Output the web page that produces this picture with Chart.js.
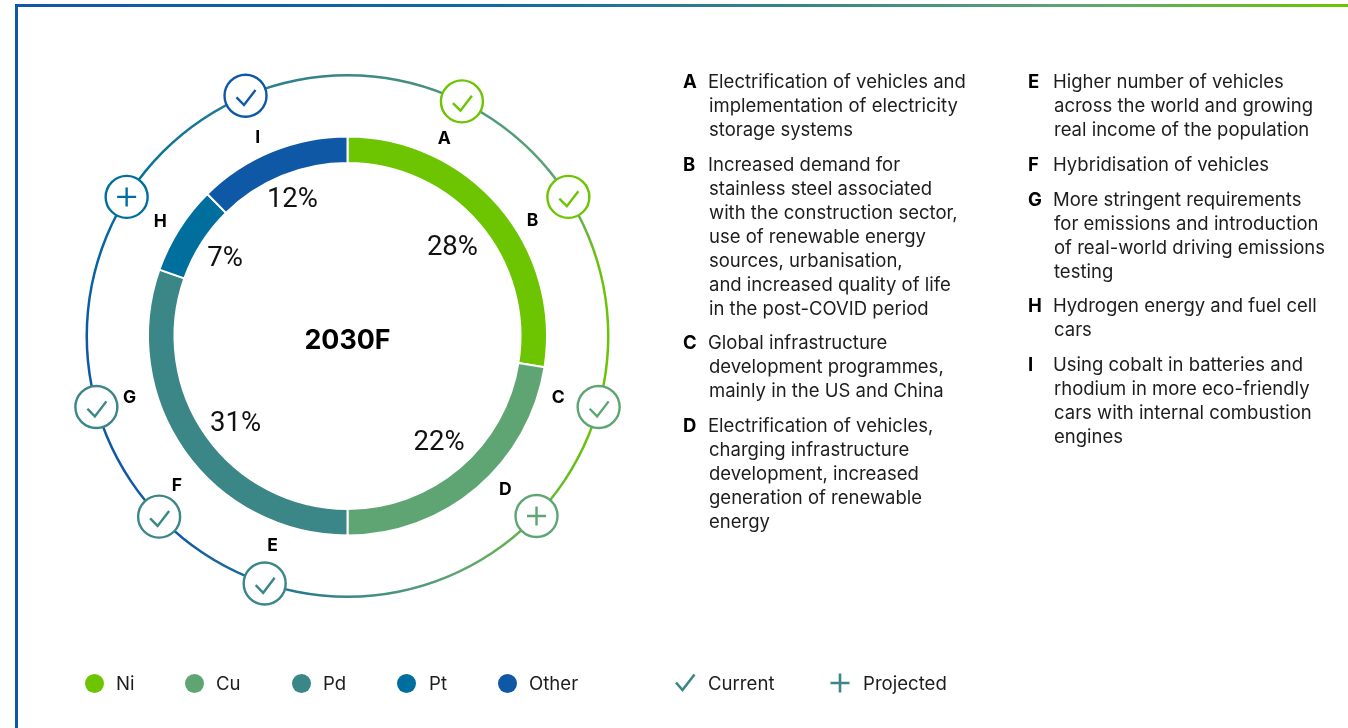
<!DOCTYPE html>
<html lang="en">
<head>
<meta charset="utf-8">
<title>2030F</title>
<script src="https://cdn.jsdelivr.net/npm/chart.js@4"></script>
<style>
  html, body { margin: 0; padding: 0; background: #fff; }
  body { position: relative; width: 1348px; height: 728px; overflow: hidden; font-family: Inter, sans-serif; color: #1d1d1d; }
  #chart { position: absolute; left: 0; top: 0; }
  #topLine { position: absolute; left: 15px; top: 4px; right: 0; height: 3px; background: linear-gradient(90deg, #0e58a6 0%, #0e6aa0 35%, #3b8686 60%, #5fa573 80%, #6cc500 100%); }
  #leftLine { position: absolute; left: 15px; top: 4px; bottom: 0; width: 3px; background: #0e58a6; }
  .note { position: absolute; font-size: 18.5px; line-height: 24px; white-space: nowrap; }
  .note b { position: absolute; left: 0; top: 0; font-weight: 700; color: #000; }
  .note span { display: block; margin-left: 26px; }
  .note span.first { margin-left: 25px; }
  .legendItem { position: absolute; top: 671px; font-size: 18.6px; line-height: 24px; }
  .dot { position: absolute; top: 674px; width: 19px; height: 19px; border-radius: 50%; }
  svg.icon { position: absolute; top: 671px; width: 24px; height: 24px; }
</style>
</head>
<body>
<canvas id="chart" width="1348" height="728"></canvas>
<div id="topLine"></div>
<div id="leftLine"></div>
<script>
// Podaci
const metals = ["Ni", "Cu", "Pd", "Pt", "Other"];
const shareLabels = ["28%", "22%", "31%", "7%", "12%"];
// Sirine lukova procitane sa slike (u originalu ne prate tacno ispisane postotke)
const arcShares = [27.5, 22.5, 30.4, 7.2, 12.4];
const metalColors = ["#6cc500", "#5fa573", "#3b8686", "#006f9e", "#0e58a6"];

const driverLetters = ["A", "B", "C", "D", "E", "F", "G", "H", "I"];
const driverKinds = ["check", "check", "check", "plus", "check", "check", "check", "plus", "check"];
const driverMetal = [0, 0, 1, 1, 2, 2, 2, 3, 4];

const notesLeft = [
  ["Electrification of vehicles and", "implementation of electricity", "storage systems"],
  ["Increased demand for", "stainless steel associated", "with the construction sector,", "use of renewable energy", "sources, urbanisation,", "and increased quality of life", "in the post-COVID period"],
  ["Global infrastructure", "development programmes,", "mainly in the US and China"],
  ["Electrification of vehicles,", "charging infrastructure", "development, increased", "generation of renewable", "energy"]
];
const notesRight = [
  ["Higher number of vehicles", "across the world and growing", "real income of the population"],
  ["Hybridisation of vehicles"],
  ["More stringent requirements", "for emissions and introduction", "of real-world driving emissions", "testing"],
  ["Hydrogen energy and fuel cell", "cars"],
  ["Using cobalt in batteries and", "rhodium in more eco-friendly", "cars with internal combustion", "engines"]
];

// Raspored (nije dio podataka)
const markerAngles = [26, 57.8, 105.8, 133.6, 198.5, 226.2, 254.2, 302.2, 337];
const letterAngles = [26, 57.7, 105.9, 133.9, 199.8, 229, 254.6, 301.7, 335.8];
const letterRadii = [221, 219, 219, 219, 221, 226, 226, 220, 219];
const percentAngles = [49.2, 138.8, 232.6, 303, 338.3];
const percentRadii = [138.6, 138.9, 140.9, 146, 149];
const leftTops = [69, 152, 330, 413];
const rightTops = [69, 152, 187, 293, 352];
const legendDotX = [85, 185, 292, 397, 498];
const legendTextX = [116, 216, 323, 429, 529];

function addNotes(notes, tops, x, startIndex) {
  notes.forEach((lines, i) => {
    const note = document.createElement("div");
    note.className = "note";
    note.style.left = x + "px";
    note.style.top = tops[i] + "px";
    const letter = document.createElement("b");
    letter.textContent = driverLetters[startIndex + i];
    note.appendChild(letter);
    lines.forEach((line, j) => {
      const row = document.createElement("span");
      if (j === 0) row.className = "first";
      row.textContent = line;
      note.appendChild(row);
    });
    document.body.appendChild(note);
  });
}
addNotes(notesLeft, leftTops, 683, 0);
addNotes(notesRight, rightTops, 1028, 4);

// Legenda
metals.forEach((metal, i) => {
  const dot = document.createElement("div");
  dot.className = "dot";
  dot.style.left = legendDotX[i] + "px";
  dot.style.background = metalColors[i];
  document.body.appendChild(dot);
  const text = document.createElement("div");
  text.className = "legendItem";
  text.style.left = legendTextX[i] + "px";
  text.textContent = metal;
  document.body.appendChild(text);
});
document.body.insertAdjacentHTML("beforeend", `
  <svg class="icon" style="left:673px" viewBox="0 0 24 24"><path d="M3 11.5 L9.5 19 L21.5 3.5" fill="none" stroke="#3b8686" stroke-width="2.6"/></svg>
  <div class="legendItem" style="left:708px">Current</div>
  <svg class="icon" style="left:828px" viewBox="0 0 24 24"><path d="M12 2.5 V21.5 M2.5 12 H21.5" fill="none" stroke="#3b8686" stroke-width="2.6"/></svg>
  <div class="legendItem" style="left:863px">Projected</div>`);

function toPoint(cx, cy, deg, r) {
  const a = (deg - 90) * Math.PI / 180;
  return [cx + Math.cos(a) * r, cy + Math.sin(a) * r];
}

// Vanjski prsten s prijelazom boja
function ringGradient(context) {
  const chart = context.chart;
  if (!chart.chartArea) return "#3b8686";
  const cx = (chart.chartArea.left + chart.chartArea.right) / 2;
  const cy = (chart.chartArea.top + chart.chartArea.bottom) / 2;
  const g = chart.ctx.createConicGradient(-Math.PI / 2, cx, cy);
  g.addColorStop(0, "#3b8686");
  g.addColorStop(0.09, "#4f9a7c");
  g.addColorStop(0.16, "#5fa573");
  g.addColorStop(0.2, "#6cc010");
  g.addColorStop(0.3, "#6cc500");
  g.addColorStop(0.37, "#62b83a");
  g.addColorStop(0.43, "#5fa573");
  g.addColorStop(0.5, "#3b8686");
  g.addColorStop(0.56, "#1a6c99");
  g.addColorStop(0.62, "#0e58a6");
  g.addColorStop(0.75, "#0e58a6");
  g.addColorStop(0.84, "#006f9e");
  g.addColorStop(1, "#3b8686");
  return g;
}

// Oznake, kruzici i postoci iznad prstenova
const overlayPlugin = {
  id: "overlay",
  afterDraw(chart) {
    const ctx = chart.ctx;
    const band = chart.getDatasetMeta(2).data;
    const cx = band[0].x, cy = band[0].y;
    const ringR = chart.getDatasetMeta(0).data[0].outerRadius - 1;
    ctx.save();
    ctx.textAlign = "center";
    ctx.textBaseline = "middle";

    driverLetters.forEach((letter, i) => {
      const [mx, my] = toPoint(cx, cy, markerAngles[i], ringR);
      const color = metalColors[driverMetal[i]];
      ctx.beginPath();
      ctx.arc(mx, my, 21, 0, Math.PI * 2);
      ctx.fillStyle = "#fff";
      ctx.fill();
      ctx.lineWidth = 2.4;
      ctx.strokeStyle = color;
      ctx.stroke();
      ctx.beginPath();
      if (driverKinds[i] === "check") {
        ctx.moveTo(mx - 9, my + 1.7);
        ctx.lineTo(mx - 1.5, my + 9.3);
        ctx.lineTo(mx + 10, my - 5.7);
      } else {
        ctx.moveTo(mx - 9.5, my);
        ctx.lineTo(mx + 9.5, my);
        ctx.moveTo(mx, my - 9.5);
        ctx.lineTo(mx, my + 9.5);
      }
      ctx.stroke();

      const [lx, ly] = toPoint(cx, cy, letterAngles[i], letterRadii[i]);
      ctx.fillStyle = "#000";
      ctx.font = "700 17.5px Inter";
      ctx.fillText(letter, lx, ly + 1.5);
    });

    ctx.fillStyle = "#111";
    ctx.font = "400 27.5px Roboto";
    shareLabels.forEach((label, i) => {
      const [px, py] = toPoint(cx, cy, percentAngles[i], percentRadii[i]);
      ctx.fillText(label, px, py + 2.5);
    });

    ctx.fillStyle = "#000";
    ctx.font = "700 26.8px Inter";
    ctx.fillText("2030F", cx, cy + 5);
    ctx.restore();
  }
};

new Chart(document.getElementById("chart").getContext("2d"), {
  type: "doughnut",
  data: {
    labels: metals,
    datasets: [
      { data: [100], backgroundColor: ringGradient, borderWidth: 0, weight: 2.5 },
      { data: [100], backgroundColor: "rgba(0,0,0,0)", borderWidth: 0, weight: 60 },
      { data: arcShares, backgroundColor: metalColors, borderColor: "#fff", borderWidth: 2, weight: 26.5 }
    ]
  },
  options: {
    responsive: false,
    animation: false,
    cutout: 173,
    layout: { padding: { left: 85.5, right: 738.5, top: 74, bottom: 130 } },
    plugins: { legend: { display: false }, tooltip: { enabled: false } }
  },
  plugins: [overlayPlugin]
});
</script>
</body>
</html>
